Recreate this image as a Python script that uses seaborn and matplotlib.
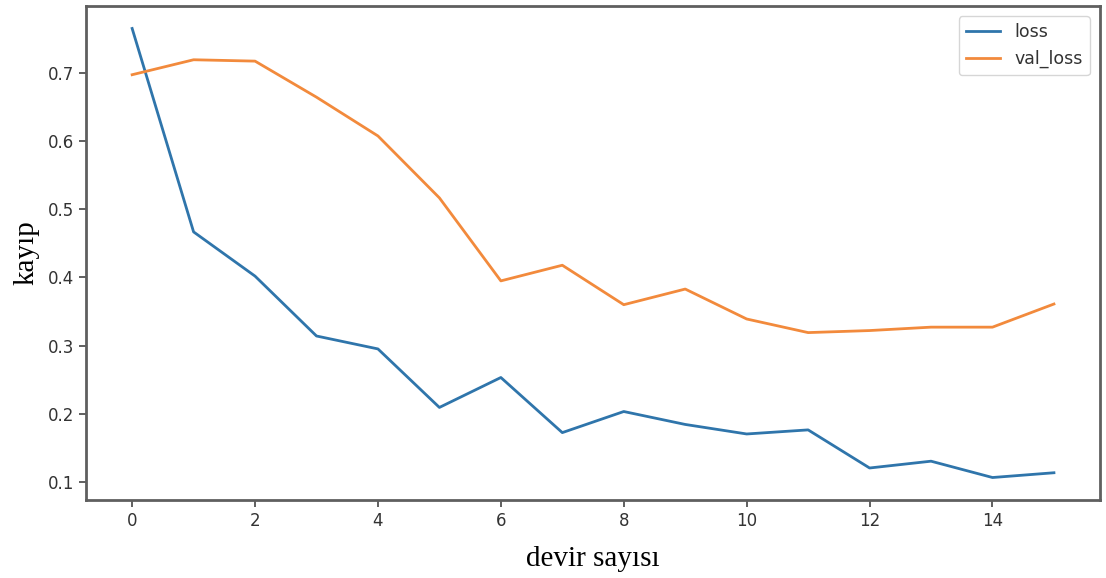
import matplotlib
matplotlib.use("Agg")
import matplotlib.pyplot as plt
import pandas as pd
import seaborn as sns

epochs = list(range(16))
loss = [0.766, 0.467, 0.402, 0.314, 0.295, 0.209, 0.253, 0.172,
        0.203, 0.184, 0.170, 0.176, 0.120, 0.130, 0.106, 0.113]
val_loss = [0.698, 0.720, 0.718, 0.665, 0.608, 0.517, 0.395, 0.418,
            0.360, 0.383, 0.339, 0.319, 0.322, 0.327, 0.327, 0.361]
series_names = ["loss", "val_loss"]
x_ticks = [0, 2, 4, 6, 8, 10, 12, 14]
y_ticks = [0.1, 0.2, 0.3, 0.4, 0.5, 0.6, 0.7]

plt.rcParams["font.family"] = ["DejaVu Sans"]

df = pd.DataFrame({
    "epoch": epochs * 2,
    "value": loss + val_loss,
    "series": [series_names[0]] * len(loss) + [series_names[1]] * len(val_loss),
})

fig = plt.figure(figsize=(11.06, 5.78), dpi=100)
ax = fig.add_axes([0.0778, 0.135, 0.9168, 0.8546])

sns.lineplot(data=df, x="epoch", y="value", hue="series",
             palette=["#2f75ab", "#f28a3c"], linewidth=2.0, ax=ax)

ax.set_xticks(x_ticks)
ax.set_yticks(y_ticks)
ax.set_yticklabels([f"{t:.1f}" for t in y_ticks])
ax.tick_params(axis="both", labelsize=12, length=5, width=1.2,
               color="#444444", labelcolor="#333333")

for sp in ax.spines.values():
    sp.set_color("#5f5f5f")
    sp.set_linewidth(2.0)

ax.set_xlabel("devir sayısı", family="Liberation Serif", fontsize=21, labelpad=12)
ax.set_ylabel("kayıp", family="Liberation Serif", fontsize=21, labelpad=6)

leg = ax.legend(loc="upper right", fontsize=12.5, frameon=True,
                handlelength=2.0, borderaxespad=0.6)
leg.get_frame().set_edgecolor("#cccccc")
for t in leg.get_texts():
    t.set_color("#333333")

fig.savefig("out.png", dpi=100)
